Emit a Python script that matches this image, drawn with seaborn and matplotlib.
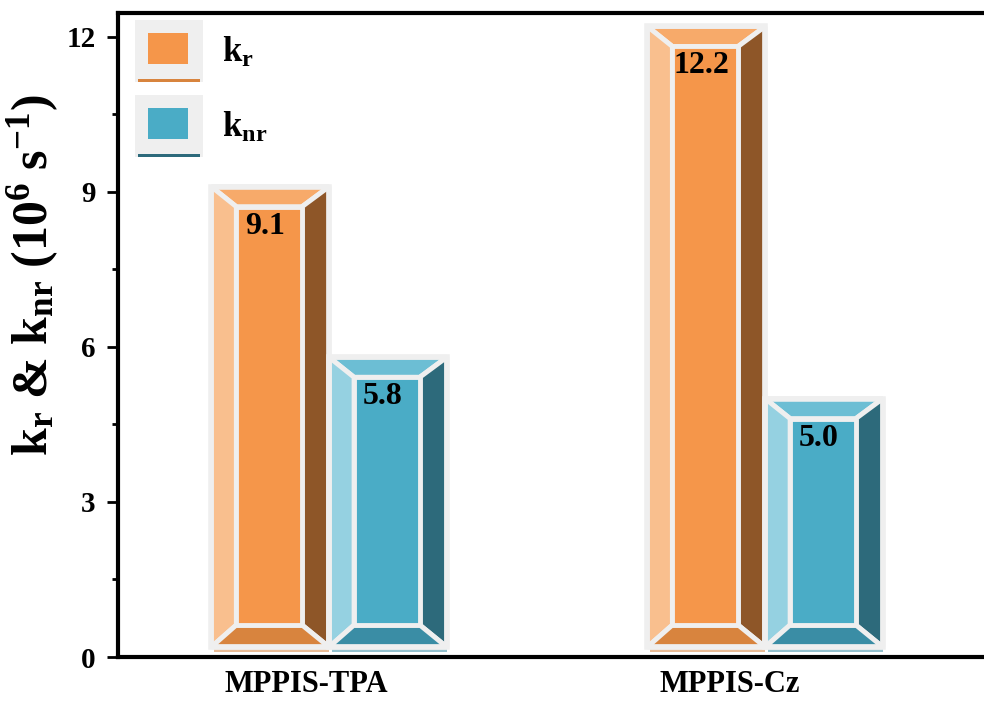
import numpy as np
import pandas as pd
import seaborn as sns
import matplotlib.pyplot as plt
from matplotlib.patches import Polygon, Rectangle
from matplotlib.legend_handler import HandlerBase
from matplotlib.transforms import ScaledTranslation

# data
samples = ["MPPIS-TPA", "MPPIS-Cz"]
kr = [9.1, 12.2]
knr = [5.8, 5.0]

df = pd.DataFrame({
    "sample": samples * 2,
    "rate": ["kr"] * len(samples) + ["knr"] * len(samples),
    "value": kr + knr,
})

# face, top, left, right, bottom shades
shades = {
    "kr": ["#f5964a", "#f7aa6a", "#f9bf8e", "#8e5628", "#d8843e"],
    "knr": ["#4aacc6", "#6cbed4", "#95d1e1", "#2d6a7b", "#3a8da5"],
}
frame = "#efefef"

sns.set_style("ticks")
plt.rcParams["font.family"] = ["Liberation Serif", "DejaVu Serif"]
plt.rcParams["font.weight"] = "bold"
plt.rcParams["mathtext.fontset"] = "custom"
plt.rcParams["mathtext.rm"] = "Liberation Serif:bold"
plt.rcParams["mathtext.bf"] = "Liberation Serif:bold"
plt.rcParams["mathtext.it"] = "Liberation Serif:bold"
for k in ["text.color", "axes.labelcolor", "xtick.color", "ytick.color", "axes.edgecolor"]:
    plt.rcParams[k] = "black"

fig = plt.figure(figsize=(9.84, 7.04), dpi=100)
ax = fig.add_axes([118 / 984, 47 / 704, 1 - 118 / 984, 644 / 704])

sns.barplot(data=df, x="sample", y="value", hue="rate",
            palette=[shades["kr"][0], shades["knr"][0]],
            width=0.54, saturation=1, legend=False, ax=ax)

ax.set_xlim(-0.484, 1.502)
ax.set_ylim(0, 12.46)
ax.set_yticks([0, 3, 6, 9, 12])
ax.set_yticks([1.5, 4.5, 7.5, 10.5], minor=True)
ax.tick_params(axis="y", which="major", length=8, width=2, labelsize=21, pad=8)
ax.tick_params(axis="y", which="minor", length=4.5, width=2)
ax.tick_params(axis="x", length=0, labelsize=22, pad=9)
for lab, dx in zip(ax.get_xticklabels(), [-23, -35]):
    lab.set_fontweight("bold")
    lab.set_transform(lab.get_transform() + ScaledTranslation(dx / 100, 0, fig.dpi_scale_trans))
for lab in ax.get_yticklabels():
    lab.set_fontweight("bold")
for side in ["left", "top", "bottom"]:
    ax.spines[side].set_linewidth(3)
ax.spines["right"].set_visible(False)
ax.set_xlabel("")
ax.set_ylabel(r"$\mathbf{k_r}$ & $\mathbf{k_{nr}}$ (10$^{\mathbf{6}}$ s$^{\mathbf{-1}}$)",
              fontsize=36, fontweight="bold")
ax.yaxis.set_label_coords(-0.066, 0.593)

# bevelled bars
inv = ax.transData.inverted()
for p, rate, v in zip(list(ax.patches), df["rate"], df["value"]):
    x0, w, h = p.get_x(), p.get_width(), p.get_height()
    (X0, Y0), (X1, Y1) = ax.transData.transform([(x0, 0), (x0 + w, h)])
    Y0 += 10
    xi0, xi1, yi0, yi1 = X0 + 25, X1 - 27, Y0 + 22, Y1 - 20
    face, top, left, right, bottom = shades[rate]
    polys = [
        ([(X0, Y1), (X1, Y1), (xi1, yi1), (xi0, yi1)], top),
        ([(X0, Y0), (X0, Y1), (xi0, yi1), (xi0, yi0)], left),
        ([(X1, Y0), (X1, Y1), (xi1, yi1), (xi1, yi0)], right),
        ([(X0, Y0), (X1, Y0), (xi1, yi0), (xi0, yi0)], bottom),
        ([(xi0, yi0), (xi1, yi0), (xi1, yi1), (xi0, yi1)], face),
    ]
    p.set_visible(False)
    # soft shadow under the bar
    ax.add_patch(Polygon(inv.transform([(X0 + 3, Y0 - 5), (X1, Y0 - 5), (X1, Y0), (X0 + 3, Y0)]),
                         closed=True, facecolor=bottom, alpha=0.55, edgecolor="none", zorder=2))
    for pts, col in polys:
        ax.add_patch(Polygon(inv.transform(pts), closed=True, facecolor=col,
                             edgecolor=frame, linewidth=3.5, joinstyle="bevel", zorder=3))
    ax.add_patch(Polygon(inv.transform([(X0, Y0), (X1, Y0), (X1, Y1), (X0, Y1)]), closed=True,
                         facecolor="none", edgecolor=frame, linewidth=4, joinstyle="miter", zorder=4))
    ax.annotate(f"{v:.1f}", xy=(x0 + w / 2 - 0.012, h), xytext=(0, -18),
                textcoords="offset points", ha="center", va="top",
                fontsize=23, fontweight="bold", zorder=5)


class BoxHandler(HandlerBase):
    def create_artists(self, legend, orig_handle, xdescent, ydescent, width, height, fontsize, trans):
        outer = Rectangle((-xdescent, -ydescent), width, height, facecolor=frame,
                          edgecolor="none", transform=trans)
        inner = Rectangle((-xdescent + width * 0.19, -ydescent + height * 0.29),
                          width * 0.59, height * 0.5, facecolor=orig_handle.get_facecolor(),
                          edgecolor="none", transform=trans)
        base = Rectangle((-xdescent + 2, -ydescent), width - 4, 2, facecolor=orig_handle.get_edgecolor(),
                         edgecolor="none", transform=trans)
        return [outer, inner, base]


handles = [Rectangle((0, 0), 1, 1, facecolor=shades["kr"][0], edgecolor=shades["kr"][4]),
           Rectangle((0, 0), 1, 1, facecolor=shades["knr"][0], edgecolor=shades["knr"][3])]
ax.legend(handles, [r"$\mathbf{k_r}$", r"$\mathbf{k_{nr}}$"],
          handler_map={Rectangle: BoxHandler()}, loc="upper left",
          bbox_to_anchor=(0.0196, 0.989), borderaxespad=0, borderpad=0,
          frameon=False, fontsize=25, handlelength=1.96, handleheight=2.37,
          labelspacing=0.37, handletextpad=0.55)

fig.savefig("out.png", dpi=100)
